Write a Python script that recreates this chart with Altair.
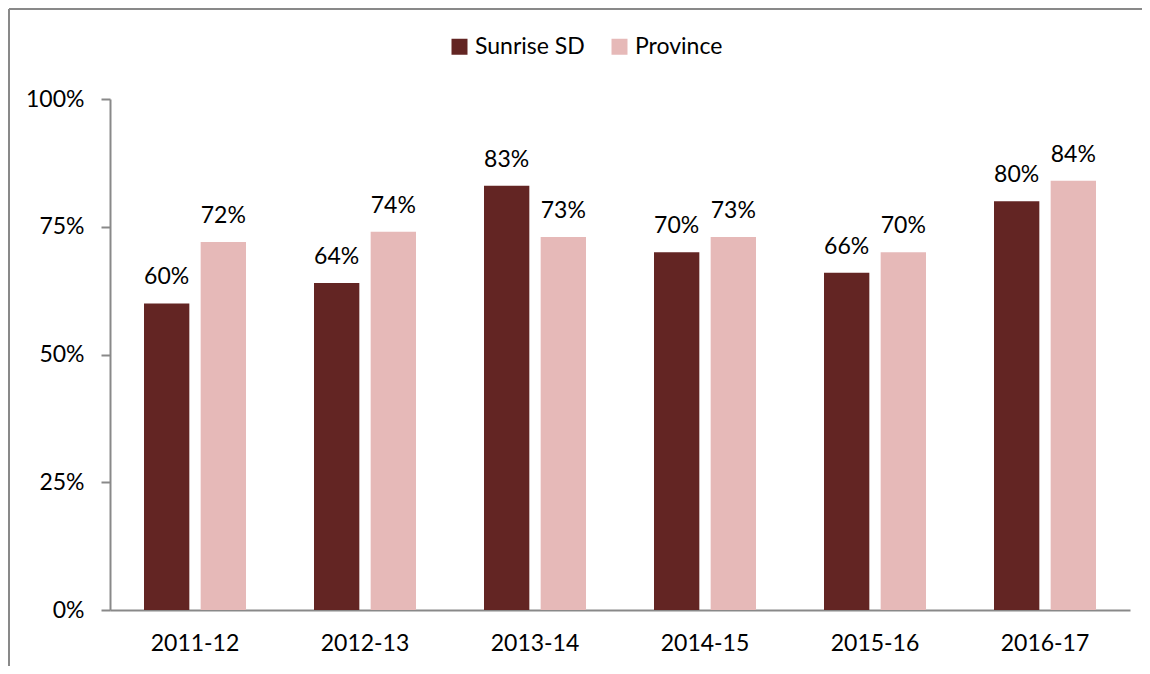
import altair as alt
import pandas as pd

years = ["2011-12", "2012-13", "2013-14", "2014-15", "2015-16", "2016-17"]
sunrise = [60, 64, 83, 70, 66, 80]
province = [72, 74, 73, 73, 70, 84]
series = ["Sunrise SD", "Province"]
colors = ["#632523", "#E6B9B8"]
y_ticks = [0, 25, 50, 75, 100]

rows = []
for i, y in enumerate(years):
    rows.append({"year": y, "series": series[0], "value": sunrise[i]})
    rows.append({"year": y, "series": series[1], "value": province[i]})
df = pd.DataFrame(rows)

FONT = "Lato"
FS = 23

x = alt.X("year:N", sort=years, title=None,
          scale=alt.Scale(paddingInner=0.4, paddingOuter=0.2),
          axis=alt.Axis(labelAngle=0, labelFontSize=FS, labelFont=FONT, labelColor="#000000",
                        domainColor="#898989", domainWidth=2, ticks=False, labelPadding=22))
xo = alt.XOffset("series:N", sort=series, scale=alt.Scale(paddingInner=0.2, paddingOuter=0))
y = alt.Y("value:Q", title=None,
          scale=alt.Scale(domain=[0, 100], nice=False),
          axis=alt.Axis(values=y_ticks, labelExpr="datum.value + '%'", grid=False,
                        labelFontSize=FS, labelFont=FONT, labelColor="#000000",
                        domainColor="#898989", domainWidth=2, tickColor="#898989",
                        tickWidth=2, tickSize=9, labelPadding=17))

bars = alt.Chart(df).mark_bar().encode(
    x=x, xOffset=xo, y=y,
    color=alt.Color("series:N", sort=series,
                    scale=alt.Scale(domain=series, range=colors),
                    legend=alt.Legend(title=None, orient="none", direction="horizontal",
                                      legendX=338, legendY=-64, symbolType="square",
                                      symbolSize=256, symbolStrokeWidth=0,
                                      labelFontSize=FS, labelFont=FONT, labelColor="#000000",
                                      labelOffset=4, columnPadding=23, padding=0)),
)

labels = alt.Chart(df).transform_calculate(lbl="datum.value + '%'").mark_text(
    fontSize=FS, font=FONT, color="#000000", baseline="alphabetic", dy=-19).encode(
    x=x, xOffset=xo, y=y, text="lbl:N")

frame_top = alt.Chart(pd.DataFrame({"a": [0]})).mark_rule(color="#898989", strokeWidth=2).encode(
    x=alt.value(-101), x2=alt.value(1032), y=alt.value(-90))
frame_left = alt.Chart(pd.DataFrame({"a": [0]})).mark_rule(color="#898989", strokeWidth=2).encode(
    x=alt.value(-101), y=alt.value(-90), y2=alt.value(567))

chart = alt.layer(frame_top, frame_left, bars, labels).properties(
    width=1020, height=511,
    autosize=alt.AutoSizeParams(type="none"),
    padding={"left": 102, "top": 91, "right": 12, "bottom": 56},
).configure_view(stroke=None)

chart.save("out.html", embed_options={"renderer": "svg", "actions": False})
